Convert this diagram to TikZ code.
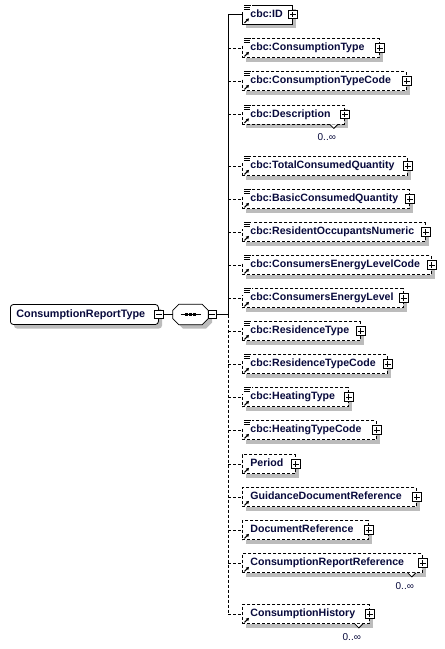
\documentclass[tikz,border=0pt]{standalone}
\usepackage{fontspec}
\setmainfont{Liberation Sans}
\usetikzlibrary{arrows.meta}
\definecolor{navy}{RGB}{8,10,60}
\definecolor{shadowgrey}{RGB}{188,188,188}
\tikzset{
  wire/.style={line width=0.8pt},
  optwire/.style={line width=0.8pt, dash pattern=on 3pt off 2pt},
  opt/.style={dash pattern=on 3pt off 2pt},
  elbox/.style={draw, fill=white, line width=0.8pt, minimum height=19pt,
    inner xsep=8pt, inner ysep=0pt, align=left,
    font=\fontsize{10.6}{12}\selectfont\bfseries, text=navy,
    text height=7.8pt, text depth=2.2pt},
  rootbox/.style={draw, fill=white, line width=0.8pt, rounded corners=3pt,
    minimum height=20pt, inner xsep=6pt, inner ysep=0pt, align=left,
    font=\fontsize{10.8}{12}\selectfont\bfseries, text=navy,
    text height=7.8pt, text depth=2.2pt},
  plusbox/.style={draw, fill=white, line width=0.7pt, minimum size=8.5pt, inner sep=0pt,
    path picture={
      \draw[line width=0.7pt] ([xshift=1.5pt]path picture bounding box.west) -- ([xshift=-1.5pt]path picture bounding box.east);
      \draw[line width=0.7pt] ([yshift=-1.5pt]path picture bounding box.north) -- ([yshift=1.5pt]path picture bounding box.south);}},
  minusbox/.style={draw, fill=white, line width=0.7pt, minimum size=8.5pt, inner sep=0pt,
    path picture={
      \draw[line width=0.7pt] ([xshift=1.5pt]path picture bounding box.west) -- ([xshift=-1.5pt]path picture bounding box.east);}},
  arrowicon/.style={line width=1pt, -{Triangle[length=2.8pt,width=3.2pt]}},
  iconline/.style={line width=0.7pt},
  occurs/.style={font=\fontsize{10}{12}\selectfont, text=navy, inner sep=0pt}
}
\newcommand\mkel[5]{%
  \pgfmathsetmacro\tw{#3-242-16}%
  \path[fill=shadowgrey] (246,#4-5.5) rectangle (#3+4,#4+13.5);%
  \node[elbox,#5,text width=\tw pt,anchor=west] (#1) at (242,#4) {#2};%
  \node[plusbox] (#1p) at (#1.east) {};%
  \draw[arrowicon] ([xshift=2.5pt,yshift=1.5pt]#1.south west) -- ++(4.5pt,4.5pt);%
}
\newcommand\cbcicon[1]{%
  \fill[white] ([xshift=-1pt,yshift=1pt]#1.north west) rectangle ([xshift=9.5pt,yshift=-7pt]#1.north west);%
  \draw[iconline] ([xshift=2pt,yshift=-0.5pt]#1.north west) -- ++(7pt,0pt);%
  \draw[iconline] ([xshift=2pt,yshift=-2.5pt]#1.north west) -- ++(6pt,0pt);%
  \draw[iconline] ([xshift=2pt,yshift=-4.5pt]#1.north west) -- ++(6pt,0pt);%
}
\newcommand\multiocc[1]{%
  \draw[line width=0.8pt, fill=white] ([xshift=-15pt]#1.south east) -- ++(4pt,-4pt) -- ++(4pt,4pt);%
  \node[occurs] (#1occ) at ([xshift=-18pt,yshift=-13pt]#1.south east) {0..∞};%
}
\begin{document}
\begin{tikzpicture}[x=1pt,y=-1pt]
\useasboundingbox (0,0) rectangle (445,649);
\fill[white] (0,0) rectangle (445,649);

% root and compositor
\path[fill=shadowgrey, rounded corners=3pt] (14,308.5) rectangle (162,328.5);
\node[rootbox, anchor=west, text width=136pt] (root) at (10,314.5) {ConsumptionReportType};
\node[minusbox] (rootm) at (root.east) {};
\path[fill=shadowgrey] (183,308.5) -- (206,308.5) -- (212,314.5) -- (212,322.5) -- (206,328.5) -- (183,328.5) -- (177,322.5) -- (177,314.5) -- cycle;
\node[minimum width=35pt, minimum height=20pt, inner sep=0pt] (comp) at (190.5,314.5) {};
\draw[line width=0.8pt, fill=white]
  ([xshift=6pt]comp.north west) -- ([xshift=-6pt]comp.north east) --
  ([yshift=-6pt]comp.north east) -- ([yshift=6pt]comp.south east) --
  ([xshift=-6pt]comp.south east) -- ([xshift=6pt]comp.south west) --
  ([yshift=6pt]comp.south west) -- ([yshift=-6pt]comp.north west) -- cycle;
\draw[line width=0.8pt] ([xshift=-10pt]comp.center) -- ([xshift=10pt]comp.center);
\foreach \dx in {-4,0,4}
  \fill ([xshift=\dx pt-1.6pt, yshift=-1.6pt]comp.center) rectangle ++(3.2pt,3.2pt);
\node[minusbox] (compm) at ([xshift=4pt]comp.east) {};
\draw[wire] (rootm.east) -- (comp.west);
\coordinate (spine) at (228,314.5);
\draw[wire] (compm.east) -- (spine);

% children
\mkel{id}{cbc:ID}{292}{14.5}{}
\mkel{ct}{cbc:ConsumptionType}{379}{48}{opt}
\mkel{ctc}{cbc:ConsumptionTypeCode}{406}{81}{opt}
\mkel{desc}{cbc:Description}{344}{114.5}{opt}
\mkel{tcq}{cbc:TotalConsumedQuantity}{407}{166}{opt}
\mkel{bcq}{cbc:BasicConsumedQuantity}{409}{199}{opt}
\mkel{ron}{cbc:ResidentOccupantsNumeric}{425}{232}{opt}
\mkel{celc}{cbc:ConsumersEnergyLevelCode}{431}{265}{opt}
\mkel{cel}{cbc:ConsumersEnergyLevel}{403}{298}{opt}
\mkel{rt}{cbc:ResidenceType}{360}{331}{opt}
\mkel{rtc}{cbc:ResidenceTypeCode}{387}{364}{opt}
\mkel{ht}{cbc:HeatingType}{348}{397}{opt}
\mkel{htc}{cbc:HeatingTypeCode}{376}{430}{opt}
\mkel{per}{Period}{295}{464}{opt}
\mkel{gdr}{GuidanceDocumentReference}{416}{497}{opt}
\mkel{dr}{DocumentReference}{368}{530}{opt}
\mkel{crr}{ConsumptionReportReference}{422}{563}{opt}
\mkel{ch}{ConsumptionHistory}{369}{614}{opt}

\foreach \n in {id,ct,ctc,desc,tcq,bcq,ron,celc,cel,rt,rtc,ht,htc}
  {\cbcicon{\n}}
\multiocc{desc}
\multiocc{crr}
\multiocc{ch}

% spine and stubs
\draw[wire] (spine) -- (spine |- id.west);
\draw[optwire] (spine) -- (spine |- ch.west);
\draw[wire] (spine |- id.west) -- (id.west);
\foreach \n in {ct,ctc,desc,tcq,bcq,ron,celc,cel,rt,rtc,ht,htc,per,gdr,dr,crr,ch}
  {\draw[optwire] (spine |- \n.west) -- (\n.west);}
\end{tikzpicture}
\end{document}
